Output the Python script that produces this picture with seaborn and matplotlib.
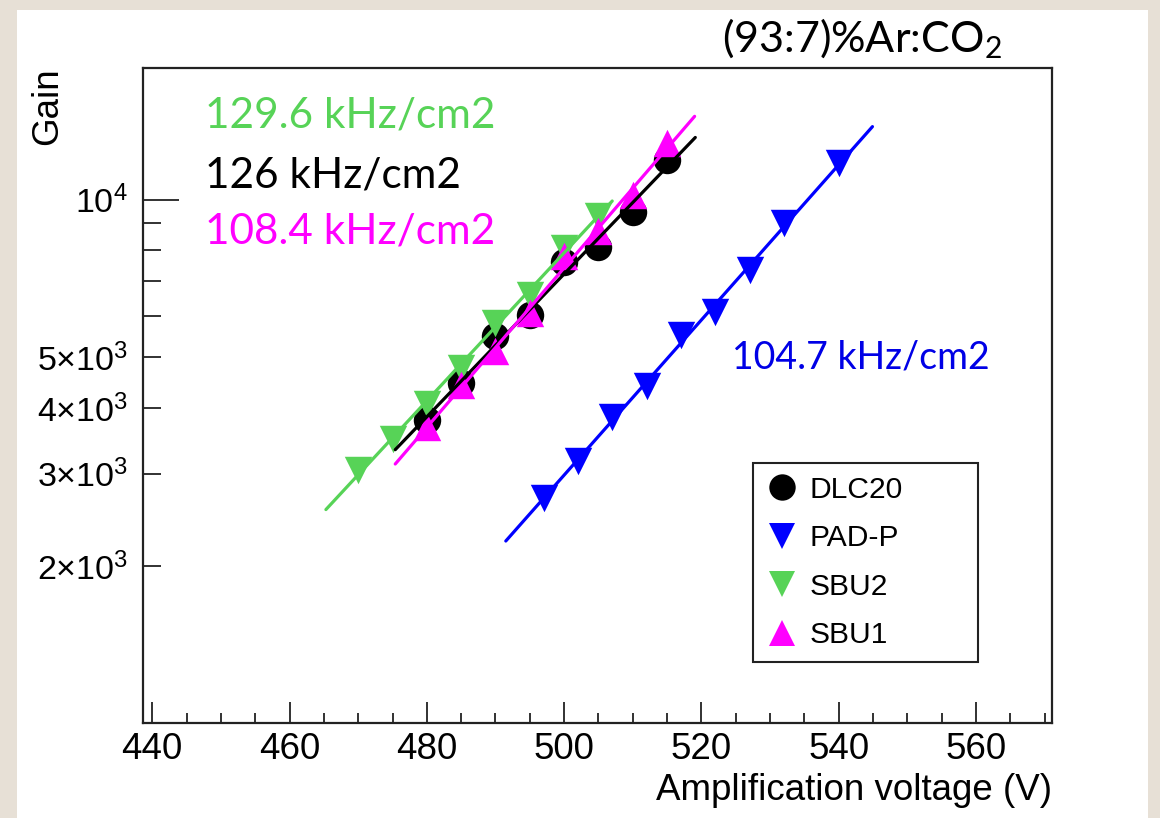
import numpy as np
import pandas as pd
import matplotlib.pyplot as plt
import seaborn as sns
from matplotlib.lines import Line2D
from matplotlib.patches import Rectangle

# values
dlc20_v = [480, 485, 490, 495, 500, 505, 510, 515]
dlc20_gain = [3800, 4460, 5480, 6030, 7610, 8130, 9480, 11900]
padp_v = [497, 502, 507, 512, 517, 522, 527, 532, 540]
padp_gain = [2700, 3170, 3850, 4400, 5520, 6110, 7340, 9010, 11730]
sbu2_v = [470, 475, 480, 485, 490, 495, 500, 505]
sbu2_gain = [3050, 3490, 4080, 4770, 5810, 6580, 8080, 9320]
sbu1_v = [480, 485, 490, 495, 500, 505, 510, 515]
sbu1_gain = [3690, 4430, 5130, 6070, 7790, 8690, 10200, 12800]

# voltage range of each exponential fit
dlc20_fit = [475.4, 519.1]
padp_fit = [491.5, 544.9]
sbu2_fit = [465.3, 507.0]
sbu1_fit = [475.4, 519.0]

names = ['DLC20', 'PAD-P', 'SBU2', 'SBU1']
rates = ['126 kHz/cm2', '104.7 kHz/cm2', '129.6 kHz/cm2', '108.4 kHz/cm2']

colors = {'DLC20': '#000000', 'PAD-P': '#0000ff', 'SBU2': '#57d357', 'SBU1': '#ff00ff'}
markers = {'DLC20': 'o', 'PAD-P': 'v', 'SBU2': 'v', 'SBU1': '^'}

sets = {
    'DLC20': (dlc20_v, dlc20_gain, dlc20_fit),
    'PAD-P': (padp_v, padp_gain, padp_fit),
    'SBU2': (sbu2_v, sbu2_gain, sbu2_fit),
    'SBU1': (sbu1_v, sbu1_gain, sbu1_fit),
}

sns.set_theme(style='white')
plt.rcParams['font.family'] = ['Liberation Sans', 'DejaVu Sans']
plt.rcParams['axes.linewidth'] = 1.5
plt.rcParams['text.color'] = 'black'
plt.rcParams['axes.labelcolor'] = 'black'
plt.rcParams['xtick.color'] = 'black'
plt.rcParams['ytick.color'] = 'black'

fig = plt.figure(figsize=(11.6, 8.18), dpi=100, facecolor='#e7e0d6')
# white slide area inside the beige border
fig.patches.append(Rectangle((17 / 1160, 0), (1148 - 17) / 1160, (818 - 10) / 818,
                             transform=fig.transFigure, facecolor='white',
                             edgecolor='none', zorder=-5))
ax = fig.add_axes([0.1235, 0.1165, 0.7831, 0.8006])
ax.set_zorder(2)
ax.set_facecolor('white')

for name in names:
    v, g, rng = sets[name]
    pts = pd.DataFrame({'V': v, 'Gain': g})
    sns.scatterplot(data=pts, x='V', y='Gain', marker=markers[name], color=colors[name],
                    s=390, linewidth=0, ax=ax, zorder=3)
    coef = np.polyfit(v, np.log10(g), 1)
    xs = np.linspace(rng[0], rng[1], 50)
    fit = pd.DataFrame({'V': xs, 'Gain': 10 ** np.polyval(coef, xs)})
    sns.lineplot(data=fit, x='V', y='Gain', color=colors[name], linewidth=2.3, ax=ax, zorder=4)

ax.set_yscale('log')
ax.set_xlim(438.7, 571)
ax.set_ylim(1005, 17830)

ax.set_xticks(np.arange(440, 561, 20))
ax.set_xticks(np.arange(440, 571, 5), minor=True)
ax.set_yticks([10000], [r'$\mathregular{10^{4}}$'])
ax.set_yticks([2000, 3000, 4000, 5000, 6000, 7000, 8000, 9000],
              [r'$\mathregular{2{\times}10^{3}}$', r'$\mathregular{3{\times}10^{3}}$',
               r'$\mathregular{4{\times}10^{3}}$', r'$\mathregular{5{\times}10^{3}}$',
               '', '', '', ''], minor=True)

ax.tick_params(axis='x', which='both', direction='in', top=False, bottom=True,
               labelsize=26.5, pad=7, width=1.3, color='#222222', labelcolor='black')
ax.tick_params(axis='x', which='major', length=15)
ax.tick_params(axis='x', which='minor', length=7)
ax.tick_params(axis='y', which='both', direction='in', right=False, left=True,
               labelsize=24.5, pad=11, width=1.3, color='#222222', labelcolor='black')
ax.tick_params(axis='y', which='major', length=26)
ax.tick_params(axis='y', which='minor', length=13)

for sp in ax.spines.values():
    sp.set_color('#222222')
    sp.set_linewidth(1.6)

ax.set_xlabel('Amplification voltage (V)', fontsize=26.5, loc='right', labelpad=4,
              color='black')
ax.set_ylabel('Gain', fontsize=26.5, loc='top', color='black')
ax.yaxis.set_label_coords(-0.086, 1.0)

handles = [Line2D([], [], ls='none', marker=markers[n], color=colors[n],
                  markersize=19, markeredgewidth=0) for n in names]
leg = ax.legend(handles, names, loc='upper left', bbox_to_anchor=(0.671, 0.0, 0.2477, 0.3965),
                mode='expand', borderaxespad=0, fontsize=21.6, frameon=True, fancybox=False,
                framealpha=1, edgecolor='#222222', borderpad=0.43, labelspacing=0.68,
                handlelength=1.07, handletextpad=0.4)
leg.get_frame().set_linewidth(1.5)
for t in leg.get_texts():
    t.set_color('black')

# rate annotations and gas mixture as on the slide
txt_font = ['Lato', 'DejaVu Sans']
fig.text(205 / 1160, 1 - 115 / 818, rates[2], color=colors['SBU2'], fontsize=30.4,
         family=txt_font, va='center', ha='left', zorder=5)
fig.text(205 / 1160, 1 - 175 / 818, rates[0], color=colors['DLC20'], fontsize=30.4,
         family=txt_font, va='center', ha='left', zorder=5)
fig.text(205 / 1160, 1 - 232 / 818, rates[3], color=colors['SBU1'], fontsize=30.4,
         family=txt_font, va='center', ha='left', zorder=5)
fig.text(732 / 1160, 1 - 357 / 818, rates[1], color='#0000e6', fontsize=27,
         family=txt_font, va='center', ha='left', zorder=5)
fig.text(722 / 1160, 1 - 52 / 818, r'(93:7)%Ar:CO$_\mathregular{2}$', color='black',
         fontsize=31, family=txt_font, va='baseline', ha='left', zorder=5)

fig.savefig('out.png', dpi=100, facecolor=fig.get_facecolor())
